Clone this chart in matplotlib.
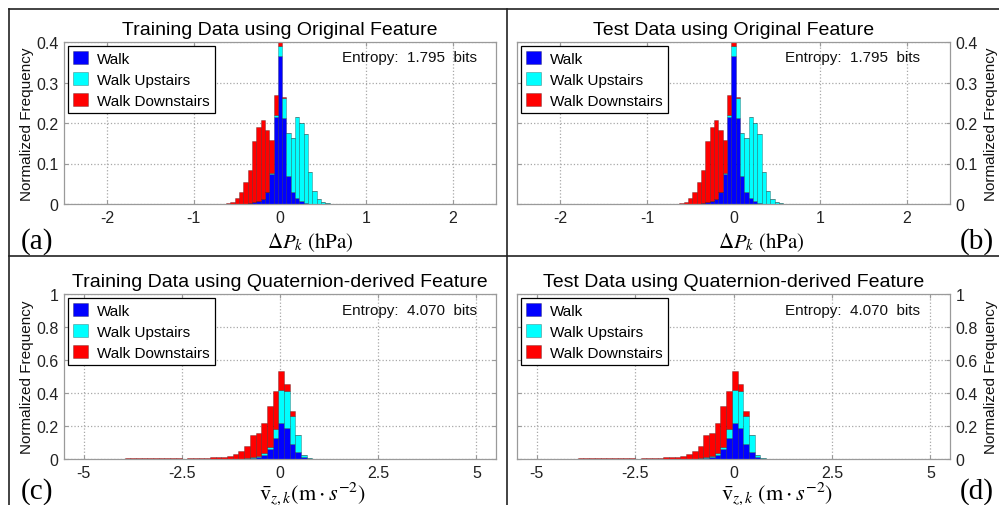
import numpy as np
import matplotlib
matplotlib.use('Agg')
import matplotlib.pyplot as plt
from matplotlib.lines import Line2D

plt.rcParams['font.family'] = ['Liberation Sans', 'DejaVu Sans']
plt.rcParams['mathtext.fontset'] = 'stix'

# ── 数据: 原始特征 ΔP_k (hPa), bin 宽 0.05, 中心 = idx * 0.05 ──
orig_idx = np.arange(-12, 12)
orig_width = 0.05
orig_walk = [0, 0, 0, 0, 0.001, 0.002, 0.004, 0.007, 0.013, 0.03, 0.075, 0.215,
             0.365, 0.212, 0.07, 0.03, 0.014, 0.007, 0.003, 0.001, 0, 0, 0, 0]
orig_up = [0, 0, 0, 0, 0, 0, 0, 0, 0, 0, 0.002, 0.005,
           0.025, 0.049, 0.105, 0.132, 0.202, 0.193, 0.17, 0.077, 0.032, 0.012, 0.004, 0.002]
orig_down = [0.002, 0.006, 0.014, 0.03, 0.054, 0.082, 0.151, 0.183, 0.194, 0.153, 0.08, 0.05,
             0.01, 0.004, 0, 0, 0, 0, 0, 0, 0, 0, 0, 0]

# ── 数据: 四元数特征 v_z,k (m/s^2), bin 宽 0.145, 中心 = 0.03 + idx * 0.145 ──
quat_idx = np.arange(-30, 7)
quat_width = 0.145
quat_walk = [0] * 24 + [0.003, 0.006, 0.012, 0.025, 0.06, 0.13,
                        0.22, 0.19, 0.09, 0.04, 0.01, 0.002, 0]
quat_up = [0] * 24 + [0.001, 0.004, 0.006, 0.01, 0.015, 0.05,
                      0.20, 0.225, 0.17, 0.105, 0.015, 0.004, 0.002]
quat_down = [0.002, 0.003, 0.002, 0.004, 0.006, 0.005, 0.004, 0.005, 0.006, 0.004,
             0.005, 0.006, 0.004, 0.003, 0.005, 0.006, 0.005, 0.008, 0.01, 0.012,
             0.012, 0.018, 0.03, 0.05, 0.076, 0.135, 0.137, 0.185, 0.245, 0.23,
             0.115, 0.04, 0.03, 0, 0, 0, 0]

labels = ['Walk', 'Walk Upstairs', 'Walk Downstairs']
colors = ['#0000ff', '#00ffff', '#ff0000']

orig_xticks = [-2, -1, 0, 1, 2]
orig_yticks = [0, 0.1, 0.2, 0.3, 0.4]
quat_xticks = [-5, -2.5, 0, 2.5, 5]
quat_yticks = [0, 0.2, 0.4, 0.6, 0.8, 1]

orig_entropy = 'Entropy:  1.795  bits'
quat_entropy = 'Entropy:  4.070  bits'

W, H = 999, 506


def px_box(x0, x1, y0, y1):
    # 像素坐标 → figure 坐标
    return [x0 / W, 1 - y1 / H, (x1 - x0) / W, (y1 - y0) / H]


def draw_panel(ax, centers, width, walk, up, down, xlim, xticks, yticks, ylim,
               title, entropy, ent_x, xlabel, xlab_x, xlab_y, xlab_size, right=False):
    walk = np.array(walk)
    up = np.array(up)
    down = np.array(down)
    kw = dict(width=width, edgecolor=(0, 0, 0, 0.35), linewidth=0.5, align='center')
    ax.bar(centers, walk, color=colors[0], label=labels[0], **kw)
    ax.bar(centers, up, bottom=walk, color=colors[1], label=labels[1], **kw)
    ax.bar(centers, down, bottom=walk + up, color=colors[2], label=labels[2], **kw)

    ax.set_xlim(*xlim)
    ax.set_ylim(*ylim)
    ax.set_xticks(xticks)
    ax.set_xticklabels([f'{t:g}' for t in xticks])
    ax.set_yticks(yticks)
    ax.set_yticklabels([f'{t:g}' for t in yticks])
    ax.grid(True, linestyle=':', color='#a8a8a8', linewidth=0.9)
    ax.set_axisbelow(True)
    for s in ax.spines.values():
        s.set_color('#9a9a9a')
        s.set_linewidth(0.9)
    ax.tick_params(direction='in', length=3, color='#9a9a9a', labelsize=11.5,
                   labelcolor='#222222', top=True, right=True, pad=4)

    ax.set_title(title, fontsize=14, pad=6)
    ax.text(ent_x, 0.905, entropy, transform=ax.transAxes, ha='right', va='center',
            fontsize=11, color='#111111')

    leg = ax.legend(loc='upper left', fontsize=11, frameon=True, fancybox=False,
                    edgecolor='black', framealpha=1, borderpad=0.35, labelspacing=0.4,
                    handlelength=0.95, handleheight=0.95, handletextpad=0.6,
                    borderaxespad=0.25)
    leg.get_frame().set_linewidth(0.9)

    ax.set_xlabel(xlabel, fontsize=xlab_size)
    ax.xaxis.set_label_coords(xlab_x, xlab_y)
    ax.set_ylabel('Normalized Frequency', fontsize=11, color='#111111')
    if right:
        ax.tick_params(labelleft=False, labelright=True)
        ax.yaxis.set_label_position('right')
        ax.yaxis.set_label_coords(1.078, 0.5)
    else:
        ax.yaxis.set_label_coords(-0.07, 0.5)


fig = plt.figure(figsize=(9.99, 5.06), dpi=100)

ax_a = fig.add_axes(px_box(64, 496, 43, 205))
ax_b = fig.add_axes(px_box(517, 950, 43, 205))
ax_c = fig.add_axes(px_box(64, 496, 295, 460))
ax_d = fig.add_axes(px_box(517, 950, 295, 460))

orig_centers = orig_idx * orig_width
quat_centers = 0.03 + quat_idx * quat_width
xlab_orig = r'$\Delta P_k\ (\mathrm{hPa})$'
xlab_quat_l = r'$\bar{\mathrm{v}}_{z,k}(\mathrm{m}\cdot s^{-2})$'
xlab_quat_r = r'$\bar{\mathrm{v}}_{z,k}\ (\mathrm{m}\cdot s^{-2})$'

draw_panel(ax_a, orig_centers, orig_width, orig_walk, orig_up, orig_down,
           (-2.5, 2.5), orig_xticks, orig_yticks, (0, 0.4),
           'Training Data using Original Feature', orig_entropy, 0.957,
           xlab_orig, 0.57, -0.16, 15)
draw_panel(ax_b, orig_centers, orig_width, orig_walk, orig_up, orig_down,
           (-2.5, 2.5), orig_xticks, orig_yticks, (0, 0.4),
           'Test Data using Original Feature', orig_entropy, 0.93,
           xlab_orig, 0.565, -0.16, 15, right=True)
draw_panel(ax_c, quat_centers, quat_width, quat_walk, quat_up, quat_down,
           (-5.5, 5.5), quat_xticks, quat_yticks, (0, 1),
           'Training Data using Quaternion-derived Feature', quat_entropy, 0.957,
           xlab_quat_l, 0.575, -0.125, 16)
draw_panel(ax_d, quat_centers, quat_width, quat_walk, quat_up, quat_down,
           (-5.5, 5.5), quat_xticks, quat_yticks, (0, 1),
           'Test Data using Quaternion-derived Feature', quat_entropy, 0.93,
           xlab_quat_r, 0.6, -0.125, 16, right=True)

# 面板标签
serif = ['Liberation Serif', 'DejaVu Serif']
fig.text(21 / W, 1 - 249 / H, '(a)', fontsize=21, family=serif, va='baseline')
fig.text(960 / W, 1 - 249 / H, '(b)', fontsize=21, family=serif, va='baseline')
fig.text(21 / W, 1 - 499 / H, '(c)', fontsize=21, family=serif, va='baseline')
fig.text(960 / W, 1 - 499 / H, '(d)', fontsize=21, family=serif, va='baseline')

# 分隔框线
lc = '#222222'
fig.add_artist(Line2D([9 / W, 1], [1 - 10 / H, 1 - 10 / H], color=lc, lw=1.2))
fig.add_artist(Line2D([9 / W, 9 / W], [0, 1 - 10 / H], color=lc, lw=1.2))
fig.add_artist(Line2D([507 / W, 507 / W], [0, 1 - 10 / H], color=lc, lw=1.2))
fig.add_artist(Line2D([9 / W, 1], [1 - 257 / H, 1 - 257 / H], color=lc, lw=1.2))

fig.savefig('out.png', dpi=100)
